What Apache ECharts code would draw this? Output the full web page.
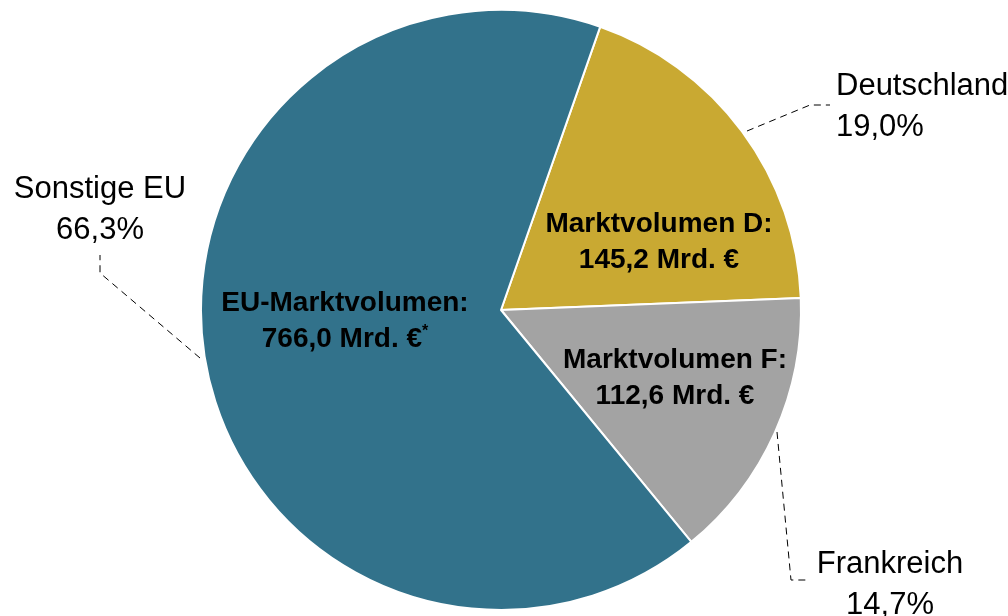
<!DOCTYPE html>
<html>
<head>
<meta charset="utf-8">
<script src="https://cdn.jsdelivr.net/npm/echarts@6/dist/echarts.min.js"></script>
<style>html,body{margin:0;padding:0;background:#fff}#c{width:1008px;height:616px}</style>
</head>
<body>
<div id="c"></div>
<script>
// Data
const categories = ['Deutschland', 'Frankreich', 'Sonstige EU'];
const shares = [19.0, 14.7, 66.3];
const innerTitles = ['Marktvolumen D:', 'Marktvolumen F:', 'EU-Marktvolumen:'];
const volumes = [145.2, 112.6, 766.0];
const volumeNotes = ['', '', '*'];
const colors = ['#C9A932', '#A3A3A3', '#32728B'];

const fmt = v => v.toFixed(1).replace('.', ',');
const FONT = '"Liberation Sans", Arial, sans-serif';

const outerLayout = [
  {x: 836, y: 107, align: 'left', pts: [[747,131],[810,105],[830,105]]},
  {x: 890, y: 585, align: 'center', pts: [[777,432],[791,580],[810,580]]},
  {x: 100, y: 210, align: 'center', pts: [[200,358],[100,273],[100,255]]}
];
const innerLayout = [
  {x: 659, y: 242}, {x: 675, y: 378}, {x: 345, y: 321}
];

const data = categories.map((c, i) => ({name: c, value: shares[i], itemStyle: {color: colors[i]}}));

const chart = echarts.init(document.getElementById('c'));
chart.setOption({
  animation: false,
  series: [
    {
      type: 'pie',
      center: [501, 310],
      radius: 300,
      startAngle: 70.7,
      clockwise: true,
      avoidLabelOverlap: false,
      data: data,
      itemStyle: {borderColor: '#fff', borderWidth: 2},
      label: {
        show: true,
        position: 'outside',
        formatter: p => p.name + '\n' + fmt(p.value) + '%',
        fontFamily: FONT,
        fontSize: 31,
        lineHeight: 41,
        color: '#000'
      },
      labelLine: {show: true, lineStyle: {color: '#000', width: 1, type: [7, 5]}},
      labelLayout: function (p) {
        const L = outerLayout[p.dataIndex];
        return {x: L.x, y: L.y, align: L.align, verticalAlign: 'middle', labelLinePoints: L.pts};
      },
      emphasis: {disabled: true}
    },
    {
      type: 'pie',
      center: [501, 310],
      radius: 300,
      startAngle: 70.7,
      silent: true,
      data: data.map(d => ({name: d.name, value: d.value, itemStyle: {color: 'rgba(0,0,0,0)', borderWidth: 0}})),
      label: {
        show: true,
        position: 'inside',
        formatter: p => '{b|' + innerTitles[p.dataIndex] + '}\n{b|' + fmt(volumes[p.dataIndex]) + ' Mrd. €}' + (volumeNotes[p.dataIndex] ? '{s|' + volumeNotes[p.dataIndex] + '}' : ''),
        rich: {
          b: {fontFamily: FONT, fontWeight: 'bold', fontSize: 28, lineHeight: 36, color: '#000', align: 'center'},
          s: {fontFamily: FONT, fontWeight: 'bold', fontSize: 16, lineHeight: 36, color: '#000', padding: [0, 0, 14, 0]}
        },
        align: 'center'
      },
      labelLine: {show: false},
      labelLayout: function (p) {
        const L = innerLayout[p.dataIndex];
        return {x: L.x, y: L.y, align: 'center', verticalAlign: 'middle'};
      },
      emphasis: {disabled: true}
    }
  ]
});
</script>
</body>
</html>
